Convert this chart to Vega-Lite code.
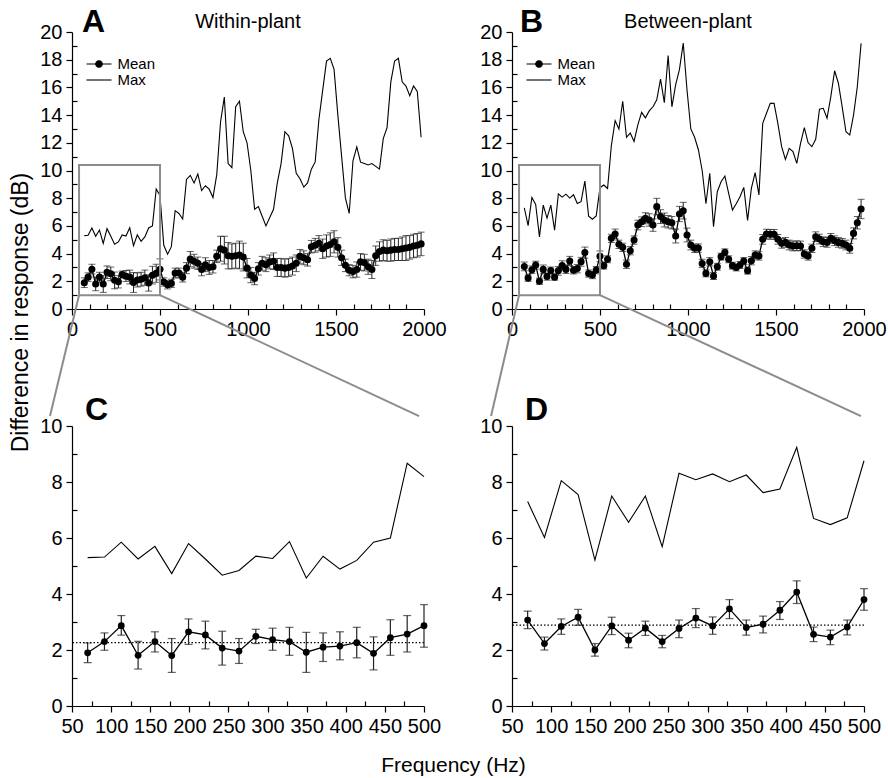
{
"$schema": "https://vega.github.io/schema/vega-lite/v6.json",
"background": "white",
"padding": {"left": 9, "top": 6, "right": 5, "bottom": 5},
"datasets": {
"within": [
{"f":70,"mean":1.90,"lo":1.55,"hi":2.25,"max":5.30},
{"f":91.5,"mean":2.30,"lo":1.99,"hi":2.61,"max":5.32},
{"f":113,"mean":2.87,"lo":2.53,"hi":3.23,"max":5.85},
{"f":134.5,"mean":1.81,"lo":1.32,"hi":2.31,"max":5.25},
{"f":156,"mean":2.30,"lo":1.93,"hi":2.65,"max":5.70},
{"f":177.5,"mean":1.80,"lo":1.20,"hi":2.41,"max":4.73},
{"f":199,"mean":2.65,"lo":2.20,"hi":3.11,"max":5.80},
{"f":220.5,"mean":2.54,"lo":2.04,"hi":3.03,"max":5.25},
{"f":242,"mean":2.07,"lo":1.46,"hi":2.67,"max":4.67},
{"f":263.5,"mean":1.96,"lo":1.52,"hi":2.41,"max":4.84},
{"f":285,"mean":2.49,"lo":2.23,"hi":2.74,"max":5.35},
{"f":306.5,"mean":2.37,"lo":1.99,"hi":2.78,"max":5.27},
{"f":328,"mean":2.30,"lo":1.81,"hi":2.81,"max":5.87},
{"f":349.5,"mean":1.92,"lo":1.20,"hi":2.63,"max":4.57},
{"f":371,"mean":2.10,"lo":1.59,"hi":2.61,"max":5.35},
{"f":392.5,"mean":2.14,"lo":1.65,"hi":2.65,"max":4.89},
{"f":414,"mean":2.26,"lo":1.72,"hi":2.81,"max":5.20},
{"f":435.5,"mean":1.88,"lo":1.29,"hi":2.47,"max":5.85},
{"f":457,"mean":2.44,"lo":1.81,"hi":3.08,"max":6.00},
{"f":478.5,"mean":2.57,"lo":1.93,"hi":3.23,"max":8.67},
{"f":500,"mean":2.87,"lo":2.10,"hi":3.62,"max":8.19},
{"f":521.5,"mean":1.95,"lo":1.65,"hi":2.25,"max":4.6},
{"f":543,"mean":1.75,"lo":1.45,"hi":2.05,"max":3.95},
{"f":564.5,"mean":1.85,"lo":1.55,"hi":2.15,"max":4.5},
{"f":586,"mean":2.60,"lo":2.25,"hi":2.95,"max":7.1},
{"f":607.5,"mean":2.60,"lo":2.25,"hi":2.95,"max":6.9},
{"f":629,"mean":2.30,"lo":1.95,"hi":2.65,"max":6.5},
{"f":650.5,"mean":2.95,"lo":2.55,"hi":3.35,"max":9.35},
{"f":672,"mean":3.60,"lo":3.05,"hi":4.15,"max":9.65},
{"f":693.5,"mean":3.45,"lo":2.95,"hi":3.95,"max":9.1},
{"f":715,"mean":3.30,"lo":2.85,"hi":3.75,"max":9.75},
{"f":736.5,"mean":2.85,"lo":2.40,"hi":3.30,"max":8.55},
{"f":758,"mean":3.20,"lo":2.70,"hi":3.70,"max":8.9},
{"f":779.5,"mean":3.00,"lo":2.50,"hi":3.50,"max":8.65},
{"f":801,"mean":3.05,"lo":2.60,"hi":3.50,"max":8.05},
{"f":822.5,"mean":3.80,"lo":3.35,"hi":4.25,"max":9.7},
{"f":844,"mean":4.35,"lo":3.45,"hi":5.25,"max":13.5},
{"f":865.5,"mean":4.25,"lo":3.25,"hi":5.25,"max":15.3},
{"f":887,"mean":3.85,"lo":2.90,"hi":4.80,"max":10.5},
{"f":908.5,"mean":3.80,"lo":2.90,"hi":4.70,"max":10.2},
{"f":930,"mean":3.85,"lo":2.95,"hi":4.75,"max":14.6},
{"f":951.5,"mean":3.90,"lo":2.90,"hi":4.90,"max":15.0},
{"f":973,"mean":3.75,"lo":2.75,"hi":4.75,"max":12.8},
{"f":994.5,"mean":2.95,"lo":2.25,"hi":3.65,"max":12.0},
{"f":1016,"mean":2.45,"lo":1.90,"hi":3.00,"max":10.0},
{"f":1037.5,"mean":2.20,"lo":1.75,"hi":2.65,"max":7.2},
{"f":1059,"mean":2.90,"lo":2.45,"hi":3.35,"max":7.4},
{"f":1080.5,"mean":3.30,"lo":2.80,"hi":3.80,"max":6.7},
{"f":1102,"mean":3.20,"lo":2.70,"hi":3.70,"max":6.0},
{"f":1123.5,"mean":3.40,"lo":2.90,"hi":3.90,"max":6.6},
{"f":1145,"mean":3.45,"lo":2.85,"hi":4.05,"max":7.2},
{"f":1166.5,"mean":3.00,"lo":2.35,"hi":3.65,"max":9.1},
{"f":1188,"mean":3.00,"lo":2.35,"hi":3.65,"max":10.5},
{"f":1209.5,"mean":2.95,"lo":2.30,"hi":3.60,"max":12.8},
{"f":1231,"mean":3.00,"lo":2.35,"hi":3.65,"max":12.5},
{"f":1252.5,"mean":3.10,"lo":2.45,"hi":3.75,"max":11.6},
{"f":1274,"mean":3.30,"lo":2.70,"hi":3.90,"max":9.8},
{"f":1295.5,"mean":3.80,"lo":3.30,"hi":4.30,"max":9.4},
{"f":1317,"mean":3.70,"lo":3.20,"hi":4.20,"max":8.8},
{"f":1338.5,"mean":3.55,"lo":3.10,"hi":4.00,"max":9.1},
{"f":1360,"mean":4.50,"lo":4.05,"hi":4.95,"max":10.1},
{"f":1381.5,"mean":4.60,"lo":4.10,"hi":5.10,"max":10.6},
{"f":1403,"mean":4.75,"lo":4.20,"hi":5.30,"max":13.7},
{"f":1424.5,"mean":4.35,"lo":3.65,"hi":5.05,"max":15.8},
{"f":1446,"mean":4.55,"lo":3.75,"hi":5.35,"max":17.9},
{"f":1467.5,"mean":4.65,"lo":3.80,"hi":5.50,"max":18.1},
{"f":1489,"mean":4.85,"lo":4.05,"hi":5.65,"max":17.3},
{"f":1510.5,"mean":4.45,"lo":3.75,"hi":5.15,"max":14.0},
{"f":1532,"mean":3.70,"lo":3.15,"hi":4.25,"max":11.0},
{"f":1553.5,"mean":3.15,"lo":2.70,"hi":3.60,"max":8.0},
{"f":1575,"mean":2.80,"lo":2.40,"hi":3.20,"max":6.9},
{"f":1596.5,"mean":2.70,"lo":2.25,"hi":3.15,"max":10.7},
{"f":1618,"mean":2.85,"lo":2.30,"hi":3.40,"max":11.7},
{"f":1639.5,"mean":3.40,"lo":2.80,"hi":4.00,"max":10.6},
{"f":1661,"mean":3.35,"lo":2.75,"hi":3.95,"max":10.5},
{"f":1682.5,"mean":3.05,"lo":2.50,"hi":3.60,"max":10.4},
{"f":1704,"mean":2.85,"lo":2.20,"hi":3.50,"max":10.5},
{"f":1725.5,"mean":3.85,"lo":3.15,"hi":4.55,"max":10.3},
{"f":1747,"mean":4.15,"lo":3.45,"hi":4.85,"max":10.1},
{"f":1768.5,"mean":4.25,"lo":3.50,"hi":5.00,"max":12.3},
{"f":1790,"mean":4.20,"lo":3.45,"hi":4.95,"max":13.1},
{"f":1811.5,"mean":4.25,"lo":3.45,"hi":5.05,"max":16.4},
{"f":1833,"mean":4.30,"lo":3.50,"hi":5.10,"max":17.9},
{"f":1854.5,"mean":4.30,"lo":3.50,"hi":5.10,"max":18.1},
{"f":1876,"mean":4.35,"lo":3.50,"hi":5.20,"max":16.4},
{"f":1897.5,"mean":4.40,"lo":3.50,"hi":5.30,"max":16.1},
{"f":1919,"mean":4.45,"lo":3.60,"hi":5.30,"max":15.4},
{"f":1940.5,"mean":4.55,"lo":3.70,"hi":5.40,"max":16.1},
{"f":1962,"mean":4.60,"lo":3.75,"hi":5.45,"max":15.7},
{"f":1983.5,"mean":4.70,"lo":3.85,"hi":5.55,"max":12.4}
],
"between": [
{"f":70,"mean":3.07,"lo":2.76,"hi":3.39,"max":7.30},
{"f":91.5,"mean":2.23,"lo":2.00,"hi":2.46,"max":6.02},
{"f":113,"mean":2.84,"lo":2.56,"hi":3.11,"max":8.05},
{"f":134.5,"mean":3.17,"lo":2.88,"hi":3.45,"max":7.55},
{"f":156,"mean":2.00,"lo":1.78,"hi":2.23,"max":5.21},
{"f":177.5,"mean":2.86,"lo":2.55,"hi":3.17,"max":7.50},
{"f":199,"mean":2.35,"lo":2.08,"hi":2.60,"max":6.56},
{"f":220.5,"mean":2.78,"lo":2.52,"hi":3.03,"max":7.50},
{"f":242,"mean":2.30,"lo":2.08,"hi":2.52,"max":5.69},
{"f":263.5,"mean":2.77,"lo":2.44,"hi":3.07,"max":8.31},
{"f":285,"mean":3.14,"lo":2.80,"hi":3.48,"max":8.08},
{"f":306.5,"mean":2.86,"lo":2.56,"hi":3.18,"max":8.29},
{"f":328,"mean":3.47,"lo":3.12,"hi":3.80,"max":8.01},
{"f":349.5,"mean":2.80,"lo":2.53,"hi":3.07,"max":8.25},
{"f":371,"mean":2.92,"lo":2.61,"hi":3.21,"max":7.62},
{"f":392.5,"mean":3.42,"lo":3.09,"hi":3.73,"max":7.75},
{"f":414,"mean":4.07,"lo":3.66,"hi":4.47,"max":9.24},
{"f":435.5,"mean":2.56,"lo":2.30,"hi":2.82,"max":6.70},
{"f":457,"mean":2.46,"lo":2.19,"hi":2.71,"max":6.48},
{"f":478.5,"mean":2.82,"lo":2.54,"hi":3.07,"max":6.72},
{"f":500,"mean":3.80,"lo":3.42,"hi":4.19,"max":8.76},
{"f":521.5,"mean":3.13,"lo":2.88,"hi":3.38,"max":8.95},
{"f":543,"mean":3.59,"lo":3.34,"hi":3.84,"max":8.7},
{"f":564.5,"mean":5.10,"lo":4.80,"hi":5.40,"max":11.8},
{"f":586,"mean":5.42,"lo":5.07,"hi":5.77,"max":13.6},
{"f":607.5,"mean":4.67,"lo":4.37,"hi":4.97,"max":13.0},
{"f":629,"mean":4.45,"lo":4.15,"hi":4.75,"max":15.0},
{"f":650.5,"mean":3.23,"lo":2.93,"hi":3.53,"max":12.4},
{"f":672,"mean":4.21,"lo":3.91,"hi":4.51,"max":12.7},
{"f":693.5,"mean":4.98,"lo":4.68,"hi":5.28,"max":12.1},
{"f":715,"mean":6.06,"lo":5.71,"hi":6.41,"max":13.3},
{"f":736.5,"mean":6.30,"lo":5.95,"hi":6.65,"max":14.2},
{"f":758,"mean":6.55,"lo":6.15,"hi":6.95,"max":13.8},
{"f":779.5,"mean":6.43,"lo":5.98,"hi":6.88,"max":14.3},
{"f":801,"mean":6.06,"lo":5.61,"hi":6.51,"max":14.6},
{"f":822.5,"mean":7.39,"lo":6.79,"hi":7.99,"max":15.1},
{"f":844,"mean":6.67,"lo":6.17,"hi":7.17,"max":16.6},
{"f":865.5,"mean":6.43,"lo":5.93,"hi":6.93,"max":14.9},
{"f":887,"mean":6.30,"lo":5.85,"hi":6.75,"max":18.3},
{"f":908.5,"mean":6.23,"lo":5.78,"hi":6.68,"max":14.6},
{"f":930,"mean":5.27,"lo":4.77,"hi":5.77,"max":16.2},
{"f":951.5,"mean":6.86,"lo":6.31,"hi":7.41,"max":17.3},
{"f":973,"mean":7.10,"lo":6.50,"hi":7.70,"max":19.2},
{"f":994.5,"mean":5.34,"lo":4.84,"hi":5.84,"max":15.8},
{"f":1016,"mean":4.62,"lo":4.27,"hi":4.97,"max":13.0},
{"f":1037.5,"mean":4.38,"lo":4.08,"hi":4.68,"max":12.4},
{"f":1059,"mean":4.40,"lo":4.10,"hi":4.70,"max":11.5},
{"f":1080.5,"mean":3.29,"lo":2.99,"hi":3.59,"max":10.0},
{"f":1102,"mean":2.57,"lo":2.32,"hi":2.82,"max":7.6},
{"f":1123.5,"mean":3.41,"lo":3.11,"hi":3.71,"max":9.8},
{"f":1145,"mean":2.38,"lo":2.13,"hi":2.63,"max":5.95},
{"f":1166.5,"mean":3.05,"lo":2.80,"hi":3.30,"max":8.47},
{"f":1188,"mean":3.78,"lo":3.53,"hi":4.03,"max":9.19},
{"f":1209.5,"mean":4.09,"lo":3.84,"hi":4.34,"max":9.6},
{"f":1231,"mean":3.59,"lo":3.34,"hi":3.84,"max":8.35},
{"f":1252.5,"mean":3.13,"lo":2.88,"hi":3.38,"max":7.15},
{"f":1274,"mean":3.00,"lo":2.75,"hi":3.25,"max":7.6},
{"f":1295.5,"mean":3.18,"lo":2.93,"hi":3.43,"max":8.11},
{"f":1317,"mean":3.46,"lo":3.21,"hi":3.71,"max":8.78},
{"f":1338.5,"mean":2.77,"lo":2.52,"hi":3.02,"max":6.4},
{"f":1360,"mean":3.49,"lo":3.19,"hi":3.79,"max":8.71},
{"f":1381.5,"mean":3.90,"lo":3.60,"hi":4.20,"max":9.84},
{"f":1403,"mean":3.83,"lo":3.53,"hi":4.13,"max":8.23},
{"f":1424.5,"mean":5.03,"lo":4.68,"hi":5.38,"max":13.4},
{"f":1446,"mean":5.41,"lo":5.06,"hi":5.76,"max":14.13},
{"f":1467.5,"mean":5.39,"lo":5.04,"hi":5.74,"max":14.85},
{"f":1489,"mean":5.39,"lo":5.04,"hi":5.74,"max":14.85},
{"f":1510.5,"mean":5.03,"lo":4.68,"hi":5.38,"max":13.4},
{"f":1532,"mean":4.74,"lo":4.39,"hi":5.09,"max":11.72},
{"f":1553.5,"mean":4.81,"lo":4.46,"hi":5.16,"max":10.8},
{"f":1575,"mean":4.62,"lo":4.27,"hi":4.97,"max":11.6},
{"f":1596.5,"mean":4.55,"lo":4.20,"hi":4.90,"max":11.36},
{"f":1618,"mean":4.57,"lo":4.22,"hi":4.92,"max":10.52},
{"f":1639.5,"mean":4.55,"lo":4.20,"hi":4.90,"max":11.96},
{"f":1661,"mean":3.97,"lo":3.67,"hi":4.27,"max":13.09},
{"f":1682.5,"mean":3.83,"lo":3.53,"hi":4.13,"max":12.0},
{"f":1704,"mean":4.38,"lo":4.08,"hi":4.68,"max":11.72},
{"f":1725.5,"mean":5.22,"lo":4.87,"hi":5.57,"max":12.25},
{"f":1747,"mean":5.05,"lo":4.70,"hi":5.40,"max":14.42},
{"f":1768.5,"mean":4.86,"lo":4.51,"hi":5.21,"max":14.49},
{"f":1790,"mean":4.81,"lo":4.46,"hi":5.16,"max":13.77},
{"f":1811.5,"mean":5.10,"lo":4.75,"hi":5.45,"max":15.34},
{"f":1833,"mean":4.93,"lo":4.58,"hi":5.28,"max":17.2},
{"f":1854.5,"mean":4.81,"lo":4.46,"hi":5.16,"max":16.3},
{"f":1876,"mean":4.74,"lo":4.39,"hi":5.09,"max":14.6},
{"f":1897.5,"mean":4.62,"lo":4.27,"hi":4.97,"max":12.8},
{"f":1919,"mean":4.38,"lo":4.03,"hi":4.73,"max":12.56},
{"f":1940.5,"mean":5.46,"lo":5.06,"hi":5.86,"max":14.0},
{"f":1962,"mean":6.23,"lo":5.78,"hi":6.68,"max":16.05},
{"f":1983.5,"mean":7.22,"lo":6.52,"hi":7.92,"max":19.18}
]
},
"columns": 2,
"spacing": {"row": 117, "column": 88},
"bounds": "flush",
"resolve": {"scale": {"color": "independent"}, "legend": {"color": "independent"}},
"concat": [
{
"width": 352, "height": 277,
"data": {"name": "within"},
"resolve": {"axis": {"x": "independent", "y": "independent"}},
"layer": [
{"mark": {"type": "line", "strokeWidth": 1.1},
"encoding": {
"x": {"field": "f", "type": "quantitative", "scale": {"domain": [0, 2000], "nice": false, "zero": false},
"axis": {"orient": "bottom", "values": [0, 500, 1000, 1500, 2000], "format": "d", "title": null}},
"y": {"field": "max", "type": "quantitative", "scale": {"domain": [0, 20], "nice": false},
"axis": {"orient": "left", "values": [0, 2, 4, 6, 8, 10, 12, 14, 16, 18, 20], "title": "Difference in response (dB)", "titleFont": "Liberation Sans", "titleFontSize": 23, "titleFontWeight": "normal", "titleColor": "black", "titleX": -52, "titleY": 280, "titleAlign": "center", "titleBaseline": "middle", "titleAngle": 270}},
"color": {"datum": "Max", "scale": {"domain": ["Mean", "Max"], "range": ["black", "black"]},
"legend": {"title": null, "orient": "none", "legendX": 19.5, "legendY": 24.5, "padding": 0, "rowPadding": 0, "labelFont": "Liberation Sans", "labelFontSize": 15, "labelColor": "black", "labelOffset": 11, "symbolSize": 100,
"encode": {"symbols": {"update": {"shape": {"signal": "datum.value === 'Mean' ? 'M-2.5,0H2.5M-0.65,0A0.65,0.65 0 1,1 0.65,0A0.65,0.65 0 1,1 -0.65,0Z' : 'M-2.5,0H2.5'"}, "fill": {"signal": "datum.value === 'Mean' ? 'black' : 'transparent'"}, "stroke": {"value": "black"}, "strokeWidth": {"value": 1.1}, "opacity": {"value": 1}}}}}}
}},
{"mark": {"type": "line", "strokeWidth": 1.3},
"encoding": {
"x": {"field": "f", "type": "quantitative", "axis": {"orient": "bottom", "values": [100, 200, 300, 400, 600, 700, 800, 900, 1100, 1200, 1300, 1400, 1600, 1700, 1800, 1900], "title": null, "labels": false, "domain": false, "tickSize": -5}},
"y": {"field": "mean", "type": "quantitative", "axis": {"orient": "left", "values": [1, 3, 5, 7, 9, 11, 13, 15, 17, 19], "title": null, "labels": false, "domain": false, "tickSize": -5}},
"color": {"datum": "Mean"}
}},
{"mark": {"type": "errorbar", "ticks": {"size": 7}, "color": "#222222", "thickness": 1},
"encoding": {"x": {"field": "f", "type": "quantitative", "axis": null}, "y": {"field": "lo", "type": "quantitative", "axis": null}, "y2": {"field": "hi"}}},
{"mark": {"type": "point", "filled": true, "color": "black", "opacity": 1, "size": 50, "strokeWidth": 0},
"encoding": {"x": {"field": "f", "type": "quantitative", "axis": null}, "y": {"field": "mean", "type": "quantitative", "axis": null}}},
{"data": {"values": [{}]}, "mark": {"type": "rect", "fillOpacity": 0, "stroke": "#8c8c8c", "strokeWidth": 2},
"encoding": {"x": {"datum": 40, "type": "quantitative", "axis": null}, "x2": {"datum": 500}, "y": {"datum": 1, "type": "quantitative", "axis": null}, "y2": {"datum": 10.4}}},
{"data": {"values": [{}]}, "mark": {"type": "rule", "color": "#8c8c8c", "strokeWidth": 2},
"encoding": {"x": {"datum": 40, "type": "quantitative", "axis": null}, "y": {"datum": 1, "type": "quantitative", "axis": null}, "x2": {"datum": -125}, "y2": {"datum": -7.73}}},
{"data": {"values": [{}]}, "mark": {"type": "rule", "color": "#8c8c8c", "strokeWidth": 2},
"encoding": {"x": {"datum": 500, "type": "quantitative", "axis": null}, "y": {"datum": 1, "type": "quantitative", "axis": null}, "x2": {"datum": 1972}, "y2": {"datum": -7.73}}},
{"data": {"values": [{}]}, "mark": {"type": "text", "text": "A", "fontSize": 32, "fontWeight": "bold", "align": "left", "baseline": "alphabetic", "color": "black"},
"encoding": {"x": {"datum": 57, "type": "quantitative", "axis": null}, "y": {"datum": 20, "type": "quantitative", "axis": null}}},
{"data": {"values": [{}]}, "mark": {"type": "text", "text": "Within-plant", "fontSize": 20, "align": "center", "baseline": "alphabetic", "dy": -4, "color": "black"},
"encoding": {"x": {"datum": 1000, "type": "quantitative", "axis": null}, "y": {"datum": 20, "type": "quantitative", "axis": null}}}
]
},
{
"width": 352, "height": 277,
"data": {"name": "between"},
"resolve": {"axis": {"x": "independent", "y": "independent"}},
"layer": [
{"mark": {"type": "line", "strokeWidth": 1.1},
"encoding": {
"x": {"field": "f", "type": "quantitative", "scale": {"domain": [0, 2000], "nice": false, "zero": false},
"axis": {"orient": "bottom", "values": [0, 500, 1000, 1500, 2000], "format": "d", "title": null}},
"y": {"field": "max", "type": "quantitative", "scale": {"domain": [0, 20], "nice": false},
"axis": {"orient": "left", "values": [0, 2, 4, 6, 8, 10, 12, 14, 16, 18, 20], "title": null}},
"color": {"datum": "Max", "scale": {"domain": ["Mean", "Max"], "range": ["black", "black"]},
"legend": {"title": null, "orient": "none", "legendX": 19.5, "legendY": 24.5, "padding": 0, "rowPadding": 0, "labelFont": "Liberation Sans", "labelFontSize": 15, "labelColor": "black", "labelOffset": 11, "symbolSize": 100,
"encode": {"symbols": {"update": {"shape": {"signal": "datum.value === 'Mean' ? 'M-2.5,0H2.5M-0.65,0A0.65,0.65 0 1,1 0.65,0A0.65,0.65 0 1,1 -0.65,0Z' : 'M-2.5,0H2.5'"}, "fill": {"signal": "datum.value === 'Mean' ? 'black' : 'transparent'"}, "stroke": {"value": "black"}, "strokeWidth": {"value": 1.1}, "opacity": {"value": 1}}}}}}
}},
{"mark": {"type": "line", "strokeWidth": 1.3},
"encoding": {
"x": {"field": "f", "type": "quantitative", "axis": {"orient": "bottom", "values": [100, 200, 300, 400, 600, 700, 800, 900, 1100, 1200, 1300, 1400, 1600, 1700, 1800, 1900], "title": null, "labels": false, "domain": false, "tickSize": -5}},
"y": {"field": "mean", "type": "quantitative", "axis": {"orient": "left", "values": [1, 3, 5, 7, 9, 11, 13, 15, 17, 19], "title": null, "labels": false, "domain": false, "tickSize": -5}},
"color": {"datum": "Mean"}
}},
{"mark": {"type": "errorbar", "ticks": {"size": 7}, "color": "#222222", "thickness": 1},
"encoding": {"x": {"field": "f", "type": "quantitative", "axis": null}, "y": {"field": "lo", "type": "quantitative", "axis": null}, "y2": {"field": "hi"}}},
{"mark": {"type": "point", "filled": true, "color": "black", "opacity": 1, "size": 50, "strokeWidth": 0},
"encoding": {"x": {"field": "f", "type": "quantitative", "axis": null}, "y": {"field": "mean", "type": "quantitative", "axis": null}}},
{"data": {"values": [{}]}, "mark": {"type": "rect", "fillOpacity": 0, "stroke": "#8c8c8c", "strokeWidth": 2},
"encoding": {"x": {"datum": 40, "type": "quantitative", "axis": null}, "x2": {"datum": 500}, "y": {"datum": 1, "type": "quantitative", "axis": null}, "y2": {"datum": 10.4}}},
{"data": {"values": [{}]}, "mark": {"type": "rule", "color": "#8c8c8c", "strokeWidth": 2},
"encoding": {"x": {"datum": 40, "type": "quantitative", "axis": null}, "y": {"datum": 1, "type": "quantitative", "axis": null}, "x2": {"datum": -119}, "y2": {"datum": -7.73}}},
{"data": {"values": [{}]}, "mark": {"type": "rule", "color": "#8c8c8c", "strokeWidth": 2},
"encoding": {"x": {"datum": 500, "type": "quantitative", "axis": null}, "y": {"datum": 1, "type": "quantitative", "axis": null}, "x2": {"datum": 1983}, "y2": {"datum": -7.73}}},
{"data": {"values": [{}]}, "mark": {"type": "text", "text": "B", "fontSize": 32, "fontWeight": "bold", "align": "left", "baseline": "alphabetic", "color": "black"},
"encoding": {"x": {"datum": 45, "type": "quantitative", "axis": null}, "y": {"datum": 20, "type": "quantitative", "axis": null}}},
{"data": {"values": [{}]}, "mark": {"type": "text", "text": "Between-plant", "fontSize": 20, "align": "center", "baseline": "alphabetic", "dy": -4, "color": "black"},
"encoding": {"x": {"datum": 1000, "type": "quantitative", "axis": null}, "y": {"datum": 20, "type": "quantitative", "axis": null}}}
]
},
{
"width": 352, "height": 280,
"data": {"name": "within"},
"transform": [{"filter": "datum.f <= 500"}],
"resolve": {"axis": {"x": "independent", "y": "independent"}},
"layer": [
{"mark": {"type": "line", "strokeWidth": 1.1, "color": "black"},
"encoding": {
"x": {"field": "f", "type": "quantitative", "scale": {"domain": [50, 500], "nice": false, "zero": false},
"axis": {"orient": "bottom", "values": [50, 100, 150, 200, 250, 300, 350, 400, 450, 500], "title": "Frequency (Hz)", "titleFont": "Liberation Sans", "titleFontSize": 21, "titleFontWeight": "normal", "titleColor": "black", "titleX": 381, "titleY": 48, "titleAlign": "center", "titleBaseline": "top"}},
"y": {"field": "max", "type": "quantitative", "scale": {"domain": [0, 10], "nice": false},
"axis": {"orient": "left", "values": [0, 2, 4, 6, 8, 10], "title": null}}
}},
{"mark": {"type": "line", "strokeWidth": 1.3, "color": "black"},
"encoding": {
"x": {"field": "f", "type": "quantitative", "axis": {"orient": "bottom", "values": [75, 125, 175, 225, 275, 325, 375, 425, 475], "title": null, "labels": false, "domain": false, "tickSize": -5}},
"y": {"field": "mean", "type": "quantitative", "axis": {"orient": "left", "values": [1, 3, 5, 7, 9], "title": null, "labels": false, "domain": false, "tickSize": -5}}
}},
{"mark": {"type": "rule", "color": "black", "strokeWidth": 1.2, "strokeDash": [1.5, 2]},
"encoding": {"y": {"aggregate": "mean", "field": "mean", "type": "quantitative", "axis": null}}},
{"mark": {"type": "errorbar", "ticks": {"size": 8}, "color": "#222222", "thickness": 1.2},
"encoding": {"x": {"field": "f", "type": "quantitative", "axis": null}, "y": {"field": "lo", "type": "quantitative", "axis": null}, "y2": {"field": "hi"}}},
{"mark": {"type": "point", "filled": true, "color": "black", "opacity": 1, "size": 46, "strokeWidth": 0},
"encoding": {"x": {"field": "f", "type": "quantitative", "axis": null}, "y": {"field": "mean", "type": "quantitative", "axis": null}}},
{"data": {"values": [{}]}, "mark": {"type": "text", "text": "C", "fontSize": 32, "fontWeight": "bold", "align": "left", "baseline": "alphabetic", "color": "black"},
"encoding": {"x": {"datum": 66.6, "type": "quantitative", "axis": null}, "y": {"datum": 10.21, "type": "quantitative", "axis": null}}}
]
},
{
"width": 352, "height": 280,
"data": {"name": "between"},
"transform": [{"filter": "datum.f <= 500"}],
"resolve": {"axis": {"x": "independent", "y": "independent"}},
"layer": [
{"mark": {"type": "line", "strokeWidth": 1.1, "color": "black"},
"encoding": {
"x": {"field": "f", "type": "quantitative", "scale": {"domain": [50, 500], "nice": false, "zero": false},
"axis": {"orient": "bottom", "values": [50, 100, 150, 200, 250, 300, 350, 400, 450, 500], "title": null}},
"y": {"field": "max", "type": "quantitative", "scale": {"domain": [0, 10], "nice": false},
"axis": {"orient": "left", "values": [0, 2, 4, 6, 8, 10], "title": null}}
}},
{"mark": {"type": "line", "strokeWidth": 1.3, "color": "black"},
"encoding": {
"x": {"field": "f", "type": "quantitative", "axis": {"orient": "bottom", "values": [75, 125, 175, 225, 275, 325, 375, 425, 475], "title": null, "labels": false, "domain": false, "tickSize": -5}},
"y": {"field": "mean", "type": "quantitative", "axis": {"orient": "left", "values": [1, 3, 5, 7, 9], "title": null, "labels": false, "domain": false, "tickSize": -5}}
}},
{"mark": {"type": "rule", "color": "black", "strokeWidth": 1.2, "strokeDash": [1.5, 2]},
"encoding": {"y": {"aggregate": "mean", "field": "mean", "type": "quantitative", "axis": null}}},
{"mark": {"type": "errorbar", "ticks": {"size": 8}, "color": "#222222", "thickness": 1.2},
"encoding": {"x": {"field": "f", "type": "quantitative", "axis": null}, "y": {"field": "lo", "type": "quantitative", "axis": null}, "y2": {"field": "hi"}}},
{"mark": {"type": "point", "filled": true, "color": "black", "opacity": 1, "size": 46, "strokeWidth": 0},
"encoding": {"x": {"field": "f", "type": "quantitative", "axis": null}, "y": {"field": "mean", "type": "quantitative", "axis": null}}},
{"data": {"values": [{}]}, "mark": {"type": "text", "text": "D", "fontSize": 32, "fontWeight": "bold", "align": "left", "baseline": "alphabetic", "color": "black"},
"encoding": {"x": {"datum": 66.6, "type": "quantitative", "axis": null}, "y": {"datum": 10.21, "type": "quantitative", "axis": null}}}
]
}
],
"config": {
"view": {"stroke": null},
"font": "Liberation Sans",
"text": {"font": "Liberation Sans"},
"axis": {"grid": false, "tickColor": "black", "tickWidth": 1.2, "tickSize": 6, "domainColor": "black", "domainWidth": 1.2, "labelFont": "Liberation Sans", "labelFontSize": 20, "labelColor": "black", "labelPadding": 4, "labelFlush": false, "labelOverlap": false}
}
}
